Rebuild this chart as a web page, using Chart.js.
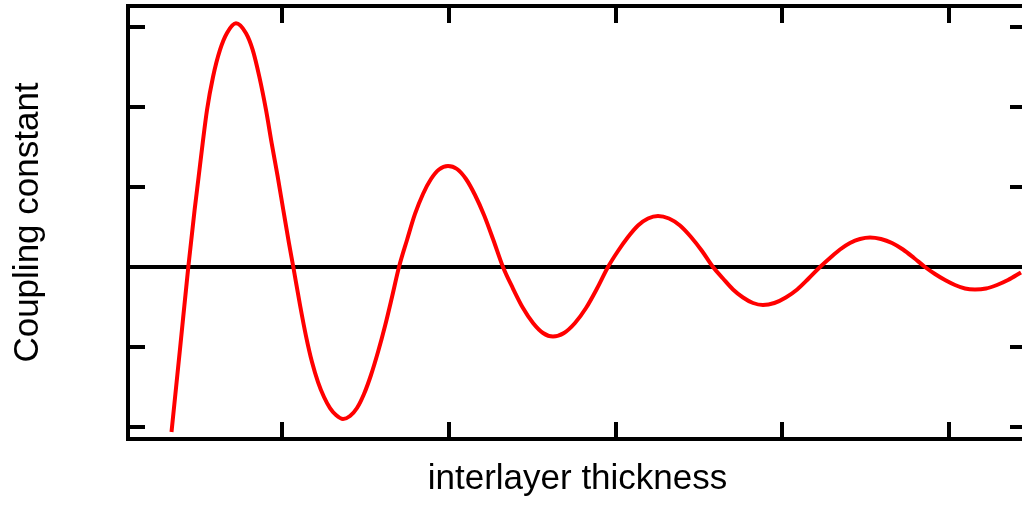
<!DOCTYPE html>
<html><head><meta charset="utf-8">
<script src="https://cdn.jsdelivr.net/npm/chart.js@4/dist/chart.umd.min.js"></script>
<style>
html,body{margin:0;padding:0;overflow:hidden;background:#fff;width:1022px;height:505px}
#wrap{position:absolute;left:0;top:0;width:1040px;height:505px}
</style>
</head><body><div id="wrap"><canvas id="c" width="1040" height="505" style="width:1040px;height:505px"></canvas></div>
<script>
const thickness = [3.413,3.922,4.419,4.796,5.036,5.281,5.539,5.898,6.317,6.737,7.275,7.874,8.275,8.671,9.072,9.413,9.772,10.108,10.449,10.707,11.108,11.467,11.826,12.186,12.545,12.904,13.263,13.683,14.102,14.521,14.940,15.359,15.778,16.198,16.617,17.036,17.515,17.994,18.473,18.952,19.431,19.970,20.509,21.048,21.587,22.126,22.665,23.263,23.862,24.461,25.060,25.659,26.257,26.916,27.575,28.234,28.892,29.551,30.150,30.749,31.347,31.946,32.545,33.204,33.862,34.521,35.180,35.838,36.437,37.036,37.635,38.234,38.832,39.515,40.198,40.880,41.563,42.246,42.844,43.443,44.042,44.641,45.240,45.898,46.557,47.216,47.874,48.533,49.132,49.731,50.329,50.928,51.527,52.186,52.844,53.503,54.281];
const coupling = [-2.063,-1.025,0,0.713,1.125,1.55,1.963,2.375,2.713,2.925,3.046,2.921,2.713,2.379,1.963,1.546,1.129,0.713,0.296,0,-0.475,-0.863,-1.188,-1.438,-1.625,-1.763,-1.85,-1.9,-1.863,-1.763,-1.588,-1.35,-1.063,-0.738,-0.375,0,0.338,0.663,0.913,1.1,1.219,1.263,1.225,1.1,0.9,0.65,0.35,0,-0.269,-0.513,-0.7,-0.825,-0.869,-0.825,-0.7,-0.513,-0.269,0,0.2,0.375,0.519,0.606,0.638,0.606,0.519,0.375,0.2,0,-0.144,-0.281,-0.381,-0.45,-0.475,-0.45,-0.381,-0.281,-0.144,0,0.113,0.219,0.3,0.35,0.369,0.35,0.3,0.219,0.113,0,-0.088,-0.163,-0.225,-0.269,-0.281,-0.269,-0.225,-0.163,-0.069];
const xTickValues = [10,20,30,40,50];
const yTickValues = [-2,-1,0,1,2,3];
const xRange = [0.808, 54.641];
const yRange = [-2.15, 3.2625];
const xTitle = 'interlayer thickness';
const yTitle = 'Coupling constant';

const FONT = {family: '"Liberation Sans", Arial, Helvetica, sans-serif', size: 35, lineHeight: 1.2};
const gridBase = {display: true, drawOnChartArea: false, drawTicks: true, tickLength: -17, lineWidth: 4, tickWidth: 4, color: '#000', tickColor: '#000'};
const borderBase = {display: true, color: '#000', width: 4};
const setTicks = vals => s => { s.ticks = vals.map(v => ({value: v})); };

new Chart(document.getElementById('c'), {
  type: 'line',
  data: {
    datasets: [{
      data: thickness.map((x, i) => ({x: x, y: coupling[i]})),
      borderColor: '#ff0000',
      borderWidth: 4,
      pointRadius: 0,
      fill: false,
      cubicInterpolationMode: 'monotone',
      xAxisID: 'x',
      yAxisID: 'y'
    }]
  },
  options: {
    responsive: false,
    animation: false,
    devicePixelRatio: 1,
    events: [],
    layout: {padding: {top: 6, right: 13, bottom: 0, left: 0}},
    plugins: {legend: {display: false}, tooltip: {enabled: false}},
    scales: {
      x: {
        type: 'linear', position: 'bottom', display: true,
        min: xRange[0], max: xRange[1],
        afterBuildTicks: setTicks(xTickValues),
        afterFit: s => { s.height = 66; },
        ticks: {display: false},
        grid: Object.assign({}, gridBase),
        border: Object.assign({}, borderBase),
        title: {display: true, text: xTitle, color: '#000', font: FONT, padding: {top: 0, bottom: 5}}
      },
      x2: {
        type: 'linear', position: 'top', display: true,
        min: xRange[0], max: xRange[1],
        afterBuildTicks: setTicks(xTickValues),
        afterFit: s => { s.height = 0; },
        ticks: {display: false},
        grid: Object.assign({}, gridBase),
        border: Object.assign({}, borderBase)
      },
      y: {
        type: 'linear', position: 'left', display: true,
        min: yRange[0], max: yRange[1],
        afterBuildTicks: setTicks(yTickValues),
        afterFit: s => { s.width = 128; },
        ticks: {display: false},
        grid: Object.assign({}, gridBase, {
          drawOnChartArea: true,
          color: c => (c.tick && c.tick.value === 0) ? '#000' : 'rgba(0,0,0,0)'
        }),
        border: Object.assign({}, borderBase),
        title: {display: true, text: yTitle, color: '#000', font: FONT, padding: {top: 7, bottom: 0}}
      },
      y2: {
        type: 'linear', position: 'right', display: true,
        min: yRange[0], max: yRange[1],
        afterBuildTicks: setTicks(yTickValues),
        afterFit: s => { s.width = 0; },
        ticks: {display: false},
        grid: Object.assign({}, gridBase),
        border: Object.assign({}, borderBase)
      }
    }
  }
});
</script>
</body></html>
